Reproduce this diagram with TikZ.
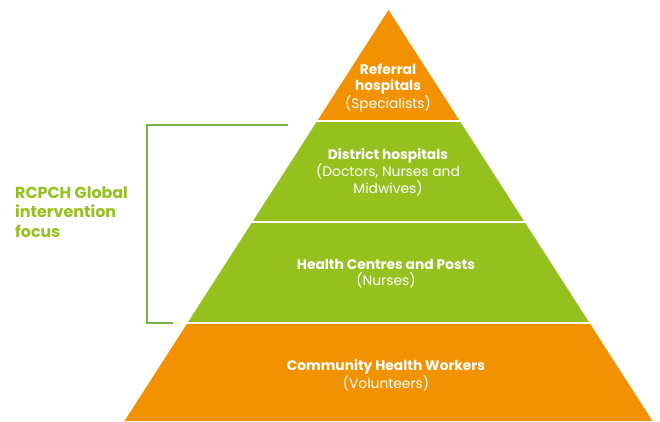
\documentclass[tikz,border=0pt]{standalone}
\usepackage{fontspec}
\setmainfont{Poppins}
\usetikzlibrary{calc}

\definecolor{pyrorange}{HTML}{F39200}
\definecolor{pyrgreen}{HTML}{95C11F}
\definecolor{bracegreen}{HTML}{77B244}

\tikzstyle{layer} = [draw=none]
\tikzstyle{gap} = [draw=white, line width=1.6pt]
\tikzstyle{layertext} = [text=white, align=center, font=\fontsize{13.8}{16.2}\selectfont]
\tikzstyle{focus} = [draw=bracegreen, line width=1.5pt]
\tikzstyle{focustext} = [text=pyrgreen, align=left, anchor=west, inner sep=0pt,
    font=\fontsize{15.9}{19.5}\selectfont\bfseries]

\begin{document}
\begin{tikzpicture}[x=1pt, y=-1pt]
\useasboundingbox (0,0) rectangle (660,422);
\coordinate (apex) at (388.5,10);
\coordinate (bl) at (124.5,421);
\coordinate (br) at (652.5,421);
\coordinate (l1) at ($(apex)!0.270!(bl)$);
\coordinate (r1) at ($(apex)!0.270!(br)$);
\coordinate (l2) at ($(apex)!0.516!(bl)$);
\coordinate (r2) at ($(apex)!0.516!(br)$);
\coordinate (l3) at ($(apex)!0.7616!(bl)$);
\coordinate (r3) at ($(apex)!0.7616!(br)$);

% pyramid layers
\fill[layer, pyrorange] (apex) -- (r1) -- (l1) -- cycle;
\fill[layer, pyrgreen] (l1) -- (r1) -- (r2) -- (l2) -- cycle;
\fill[layer, pyrgreen] (l2) -- (r2) -- (r3) -- (l3) -- cycle;
\fill[layer, pyrorange] (l3) -- (r3) -- (br) -- (bl) -- cycle;
\draw[gap] (l1) -- (r1);
\draw[gap] (l2) -- (r2);
\draw[gap] (l3) -- (r3);

\node[layertext] (referral) at (388,88) {\textbf{Referral}\\\textbf{hospitals}\\(Specialists)};
\node[layertext] (district) at (388,172) {\textbf{District hospitals}\\(Doctors, Nurses and\\Midwives)};
\node[layertext] (centres) at (386,274) {\textbf{Health Centres and Posts}\\(Nurses)};
\node[layertext] (community) at (386,375) {\textbf{Community Health Workers}\\(Volunteers)};

% bracket
\coordinate (btop) at (288,125);
\coordinate (bbot) at (173,323);
\draw[focus] (btop) -- (147,125) -- (147,323) -- (bbot);
\node[focustext] (focus) at (15,212) {RCPCH Global\\intervention\\focus};
\end{tikzpicture}
\end{document}
